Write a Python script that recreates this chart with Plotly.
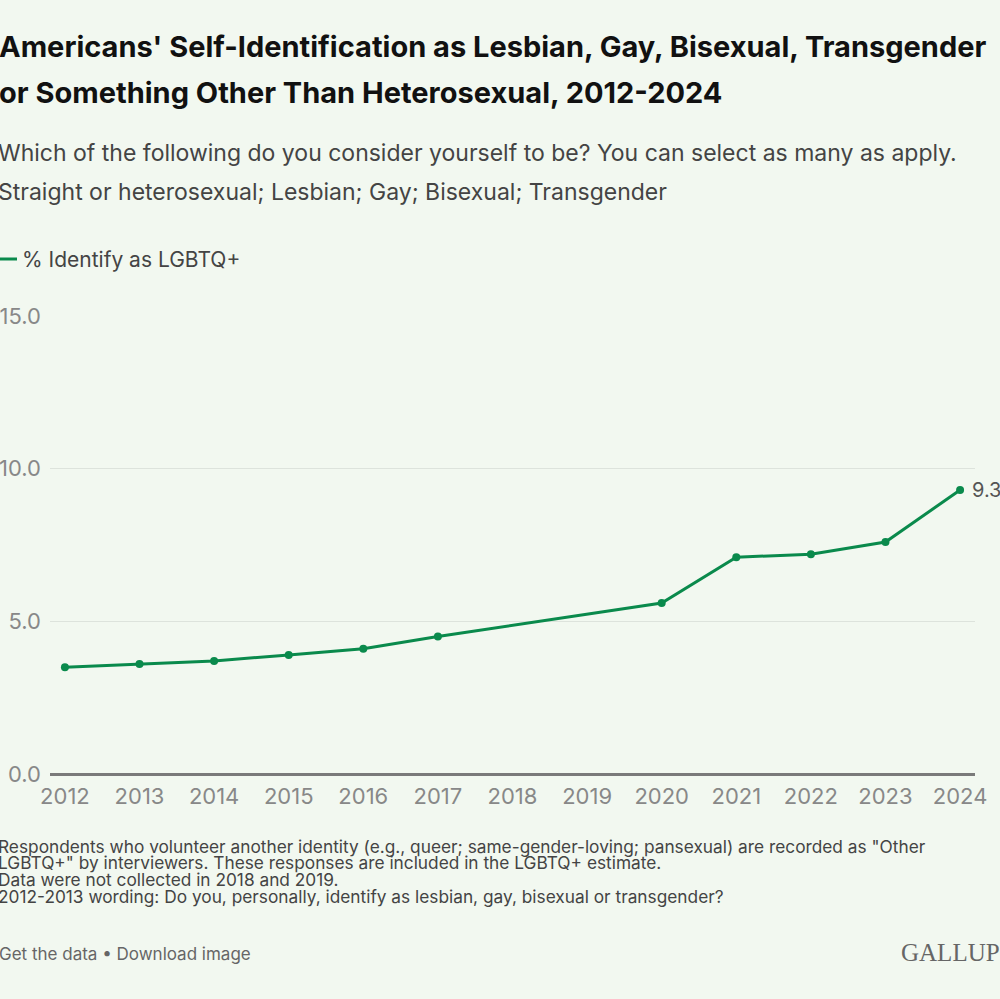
import plotly.graph_objects as go

years = [2012, 2013, 2014, 2015, 2016, 2017, 2020, 2021, 2022, 2023, 2024]
pct_lgbtq = [3.5, 3.6, 3.7, 3.9, 4.1, 4.5, 5.6, 7.1, 7.2, 7.6, 9.3]
series_name = "% Identify as LGBTQ+"
x_ticks = list(range(2012, 2025))
y_ticks = [0, 5, 10, 15]

title_lines = [
    "Americans' Self-Identification as Lesbian, Gay, Bisexual, Transgender",
    "or Something Other Than Heterosexual, 2012-2024",
]
subtitle_lines = [
    "Which of the following do you consider yourself to be? You can select as many as apply.",
    "Straight or heterosexual; Lesbian; Gay; Bisexual; Transgender",
]
footnotes = [
    "Respondents who volunteer another identity (e.g., queer; same-gender-loving; pansexual) are recorded as \"Other",
    "LGBTQ+\" by interviewers. These responses are included in the LGBTQ+ estimate.",
    "Data were not collected in 2018 and 2019.",
    "2012-2013 wording: Do you, personally, identify as lesbian, gay, bisexual or transgender?",
]

BG = "#f2f8f0"
GREEN = "#0a8a4c"
W, H = 1000, 999
L, R, T, B = 50, 25, 316, 225
PW, PH = W - L - R, H - T - B

def px(x):
    return (x - L) / PW

def py(y):
    return (H - B - y) / PH

fig = go.Figure()
fig.add_trace(go.Scatter(
    x=years, y=pct_lgbtq, mode="lines+markers", name=series_name,
    line=dict(color=GREEN, width=3),
    marker=dict(color=GREEN, size=8),
    cliponaxis=False, showlegend=False,
))

ann = []
# end-of-line data label
ann.append(dict(text=f"{pct_lgbtq[-1]:.1f}", x=years[-1], y=pct_lgbtq[-1], xref="x", yref="y",
                xanchor="left", yanchor="middle", xshift=10, showarrow=False,
                font=dict(family="Inter", size=20, color="#555555")))
font_t = dict(family="Inter", size=29, color="#111111")
for i, t in enumerate(title_lines):
    ann.append(dict(text=f"<b>{t}</b>", x=px(-3), y=py(46 + 46 * i), xref="paper", yref="paper",
                    xanchor="left", yanchor="middle", showarrow=False, font=font_t))
for i, t in enumerate(subtitle_lines):
    ann.append(dict(text=t, x=px(-4), y=py(153 + 39 * i), xref="paper", yref="paper",
                    xanchor="left", yanchor="middle", showarrow=False,
                    font=dict(family="Inter", size=23, color="#444444")))
ann.append(dict(text=series_name, x=px(20), y=py(259), xref="paper", yref="paper",
                xanchor="left", yanchor="middle", showarrow=False,
                font=dict(family="Inter", size=21, color="#444444")))
for i, t in enumerate(footnotes):
    ann.append(dict(text=t, x=px(-3), y=py(846 + 16.7 * i), xref="paper", yref="paper",
                    xanchor="left", yanchor="middle", showarrow=False, borderpad=0,
                    font=dict(family="Inter", size=17.3, color="#444444")))
ann.append(dict(text="Get the data • Download image", x=px(-3), y=py(954), xref="paper", yref="paper",
                xanchor="left", yanchor="middle", showarrow=False,
                font=dict(family="Inter", size=17, color="#666666")))
ann.append(dict(text="GALLUP", x=px(1002), y=py(952), xref="paper", yref="paper",
                xanchor="right", yanchor="middle", showarrow=False,
                font=dict(family="Liberation Serif", size=25, color="#666666")))

shapes = [dict(type="line", xref="paper", yref="paper", x0=px(-5), x1=px(17),
               y0=py(259), y1=py(259), line=dict(color=GREEN, width=3))]

fig.update_layout(
    width=W, height=H,
    margin=dict(l=L, r=R, t=T, b=B, autoexpand=False),
    paper_bgcolor=BG, plot_bgcolor=BG,
    annotations=ann, shapes=shapes,
    xaxis=dict(range=[2011.8, 2024.2], tickvals=x_ticks, ticktext=[str(v) for v in x_ticks],
               showgrid=False, zeroline=False, showline=False, ticks="", automargin=False,
               ticklabelstandoff=7,
               tickfont=dict(family="Inter", size=22, color="#888888")),
    yaxis=dict(range=[0, 15], tickvals=y_ticks, ticktext=[f"{v:.1f}" for v in y_ticks],
               showgrid=True, gridcolor="#dde3dc", gridwidth=1, zeroline=True,
               zerolinecolor="#7a7a7a", zerolinewidth=3, showline=False, ticks="",
               ticklabelstandoff=8, automargin=False,
               tickfont=dict(family="Inter", size=22, color="#888888")),
    hovermode=False,
)

fig.write_html("out.html")
